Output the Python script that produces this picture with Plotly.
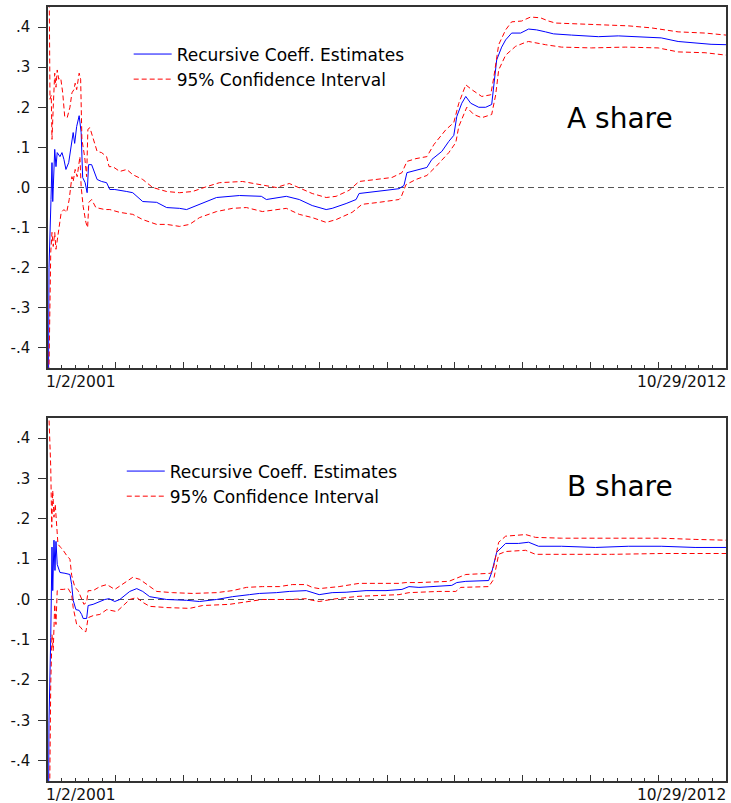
import plotly.graph_objects as go

# ---------------- data (observation index, value) ----------------
A_COEF_OBS = [0, 4, 12, 16, 19, 27, 32, 37, 48, 56, 64, 72, 83, 93, 101, 107, 115, 125, 133, 139, 149, 157, 163,
              175, 188, 197, 215, 235, 248, 268, 316, 340, 380, 436, 476, 528, 556, 608, 636, 676, 768, 856, 876,
              956, 1008, 1060, 1116, 1140, 1196, 1236, 1248, 1300, 1356, 1408, 1428, 1440, 1488, 1520, 1540, 1580,
              1608, 1628, 1640, 1660, 1676, 1696, 1728, 1756, 1780, 1788, 1800, 1820, 1836, 1860, 1896, 1928, 1960,
              1996, 2028, 2100, 2180, 2208, 2288, 2396, 2460, 2528, 2596, 2660, 2720]
A_COEF = [-0.80, -0.20, -0.03, 0.062, -0.035, 0.095, 0.052, 0.087, 0.077, 0.087, 0.07, 0.045, 0.062, 0.10, 0.137,
          0.11, 0.152, 0.179, 0.137, 0.025, 0.012, -0.013, 0.057, 0.057, 0.037, 0.02, 0.015, 0.012, -0.005, -0.005,
          -0.01, -0.013, -0.035, -0.037, -0.05, -0.052, -0.055, -0.042, -0.035, -0.025, -0.02, -0.022, -0.03,
          -0.022, -0.03, -0.045, -0.055, -0.052, -0.04, -0.03, -0.015, -0.012, -0.007, -0.003, 0.005, 0.037, 0.045,
          0.05, 0.07, 0.09, 0.115, 0.13, 0.177, 0.21, 0.227, 0.21, 0.2, 0.2, 0.207, 0.25, 0.318, 0.35, 0.368, 0.385,
          0.385, 0.395, 0.393, 0.388, 0.383, 0.38, 0.378, 0.376, 0.378, 0.375, 0.373, 0.364, 0.36, 0.357, 0.356]

A_UP_OBS = [0, 4, 8, 13, 16, 21, 27, 32, 37, 43, 51, 59, 67, 77, 88, 96, 104, 109, 115, 125, 131, 136, 147, 155,
            160, 168, 181, 197, 215, 235, 245, 260, 288, 316, 340, 380, 420, 476, 528, 580, 636, 688, 780, 848, 916,
            968, 1008, 1060, 1116, 1156, 1208, 1248, 1316, 1380, 1420, 1440, 1476, 1520, 1548, 1596, 1628, 1648,
            1676, 1700, 1740, 1776, 1788, 1808, 1836, 1860, 1900, 1936, 1976, 2008, 2036, 2128, 2236, 2328, 2420,
            2528, 2636, 2720]
A_UP = [0.90, 0.45, 0.22, 0.23, 0.12, 0.20, 0.285, 0.25, 0.293, 0.27, 0.273, 0.236, 0.177, 0.174, 0.20, 0.236,
        0.244, 0.26, 0.244, 0.285, 0.27, 0.12, 0.077, 0.027, 0.145, 0.149, 0.12, 0.09, 0.087, 0.077, 0.052, 0.052,
        0.04, 0.045, 0.032, 0.02, 0.0, -0.01, -0.013, -0.01, 0.002, 0.012, 0.015, 0.007, 0.0, 0.01, 0.0, -0.015,
        -0.025, -0.022, -0.007, 0.015, 0.02, 0.025, 0.037, 0.065, 0.072, 0.077, 0.107, 0.144, 0.162, 0.21, 0.256,
        0.244, 0.227, 0.231, 0.273, 0.356, 0.393, 0.413, 0.415, 0.425, 0.423, 0.415, 0.41, 0.408, 0.405, 0.403,
        0.398, 0.388, 0.385, 0.38]

A_LO_OBS = [0, 4, 11, 16, 21, 27, 32, 37, 45, 53, 64, 75, 85, 96, 101, 109, 117, 128, 133, 141, 152, 159, 164, 175,
            192, 228, 248, 288, 340, 380, 436, 476, 528, 568, 608, 676, 740, 796, 860, 956, 1008, 1060, 1116, 1156,
            1220, 1260, 1328, 1408, 1416, 1436, 1476, 1520, 1556, 1608, 1636, 1648, 1680, 1708, 1740, 1780, 1796,
            1808, 1836, 1876, 1916, 1928, 1996, 2060, 2180, 2316, 2448, 2528, 2636, 2720]
A_LO = [-0.90, -0.45, -0.162, -0.112, -0.147, -0.112, -0.154, -0.13, -0.097, -0.062, -0.055, -0.062, -0.03, 0.027,
        0.015, 0.045, 0.027, 0.077, 0.002, -0.047, -0.087, -0.10, -0.037, -0.03, -0.05, -0.055, -0.055, -0.062,
        -0.067, -0.08, -0.092, -0.092, -0.097, -0.092, -0.075, -0.06, -0.052, -0.05, -0.06, -0.052, -0.067, -0.075,
        -0.087, -0.08, -0.062, -0.042, -0.037, -0.03, -0.025, 0.007, 0.02, 0.03, 0.052, 0.087, 0.112, 0.152, 0.20,
        0.182, 0.174, 0.182, 0.231, 0.293, 0.33, 0.352, 0.362, 0.364, 0.356, 0.35, 0.348, 0.35, 0.348, 0.338,
        0.336, 0.33]

B_COEF_OBS = [0, 4, 11, 13, 16, 19, 24, 28, 32, 37, 48, 68, 88, 95, 101, 112, 125, 135, 141, 155, 161, 181, 201,
              228, 245, 268, 288, 328, 356, 380, 408, 476, 556, 608, 676, 740, 808, 848, 916, 968, 1036, 1060, 1088,
              1140, 1196, 1276, 1356, 1420, 1448, 1488, 1568, 1620, 1640, 1676, 1768, 1780, 1800, 1836, 1888, 1928,
              1968, 2060, 2196, 2328, 2460, 2596, 2720]
B_COEF = [-0.80, -0.30, -0.094, -0.012, 0.13, 0.022, 0.147, 0.072, 0.144, 0.087, 0.067, 0.065, 0.062, 0.037,
          -0.002, -0.025, -0.027, -0.037, -0.047, -0.047, -0.015, -0.012, -0.007, 0.0, 0.002, -0.005, 0.0, 0.02,
          0.027, 0.02, 0.007, 0.0, -0.002, -0.005, 0.0, 0.007, 0.012, 0.015, 0.017, 0.02, 0.022, 0.017, 0.012,
          0.017, 0.018, 0.022, 0.022, 0.025, 0.032, 0.03, 0.032, 0.035, 0.042, 0.045, 0.047, 0.067, 0.117, 0.139,
          0.139, 0.142, 0.132, 0.132, 0.129, 0.132, 0.132, 0.129, 0.129]

B_UP_OBS = [0, 4, 11, 15, 19, 24, 29, 35, 40, 51, 61, 75, 88, 95, 108, 121, 135, 144, 155, 161, 181, 208, 236, 268,
            316, 340, 368, 396, 436, 500, 580, 676, 740, 796, 860, 928, 980, 1036, 1060, 1088, 1168, 1248, 1408,
            1436, 1488, 1608, 1636, 1676, 1776, 1788, 1808, 1836, 1916, 1956, 2060, 2260, 2460, 2596, 2720]
B_UP = [0.90, 0.45, 0.328, 0.179, 0.27, 0.204, 0.236, 0.186, 0.137, 0.129, 0.122, 0.109, 0.10, 0.06, 0.03, 0.022,
        0.0, -0.012, -0.007, 0.022, 0.022, 0.032, 0.037, 0.025, 0.045, 0.055, 0.05, 0.037, 0.02, 0.017, 0.015,
        0.017, 0.022, 0.03, 0.032, 0.032, 0.037, 0.037, 0.03, 0.027, 0.032, 0.04, 0.04, 0.042, 0.042, 0.045, 0.052,
        0.062, 0.065, 0.082, 0.142, 0.157, 0.161, 0.154, 0.152, 0.152, 0.152, 0.149, 0.147]

B_LO_OBS = [0, 4, 8, 11, 16, 21, 27, 32, 37, 45, 61, 81, 95, 101, 115, 128, 141, 152, 161, 181, 208, 236, 276, 328,
            356, 380, 408, 476, 568, 620, 728, 796, 860, 968, 1036, 1060, 1088, 1156, 1248, 1408, 1448, 1568, 1636,
            1656, 1768, 1788, 1808, 1836, 1916, 1956, 2060, 2260, 2460, 2596, 2720]
B_LO = [-0.90, -0.60, -0.375, -0.211, -0.087, -0.127, -0.012, -0.062, 0.022, 0.025, 0.025, 0.027, 0.012, -0.02,
        -0.062, -0.067, -0.077, -0.08, -0.045, -0.04, -0.037, -0.025, -0.03, 0.0, 0.005, -0.007, -0.017, -0.02,
        -0.022, -0.015, -0.012, -0.005, 0.0, 0.0, 0.002, -0.002, -0.005, 0.002, 0.008, 0.012, 0.017, 0.02, 0.02,
        0.03, 0.032, 0.05, 0.112, 0.119, 0.122, 0.112, 0.112, 0.112, 0.114, 0.114, 0.114]

Y_TICKS = [0.4, 0.3, 0.2, 0.1, 0.0, -0.1, -0.2, -0.3, -0.4]
Y_TICK_TEXT = [".4", ".3", ".2", ".1", ".0", "-.1", "-.2", "-.3", "-.4"]
X_FIRST_LABEL = "1/2/2001"
X_LAST_LABEL = "10/29/2012"
N_OBS = 2720
PANEL_TITLES = ["A share", "B share"]
LEG_COEF = "Recursive Coeff. Estimates"
LEG_CI = "95% Confidence Interval"

# ---------------- figure ----------------
FONT = "DejaVu Sans"
BLUE = "#0000FF"
RED = "#FF0000"
FRAME = "#333333"
DASH = "5px,3px"

fig = go.Figure()

panels = [
    ("x", "y", "legend", A_COEF_OBS, A_COEF, A_UP_OBS, A_UP, A_LO_OBS, A_LO),
    ("x2", "y2", "legend2", B_COEF_OBS, B_COEF, B_UP_OBS, B_UP, B_LO_OBS, B_LO),
]
for xa, ya, leg, cx, cy, ux, uy, lx, ly in panels:
    fig.add_trace(go.Scatter(x=cx, y=cy, mode="lines", name=LEG_COEF, xaxis=xa, yaxis=ya, legend=leg,
                             line=dict(color=BLUE, width=1)))
    fig.add_trace(go.Scatter(x=ux, y=uy, mode="lines", name=LEG_CI, xaxis=xa, yaxis=ya, legend=leg,
                             line=dict(color=RED, width=1, dash=DASH)))
    fig.add_trace(go.Scatter(x=lx, y=ly, mode="lines", name=LEG_CI, xaxis=xa, yaxis=ya, legend=leg,
                             showlegend=False, line=dict(color=RED, width=1, dash=DASH)))

major = [i * N_OBS / 10 for i in range(11)]
xaxis_common = dict(range=[0, N_OBS], showgrid=False, zeroline=False, showline=True, mirror=True,
                    linecolor=FRAME, linewidth=1.5, ticks="inside", ticklen=6, tickcolor=FRAME, tickwidth=1,
                    tickvals=major, showticklabels=False,
                    minor=dict(ticks="inside", ticklen=3, tickcolor=FRAME, tickwidth=1, tick0=0,
                               dtick=N_OBS / 50, showgrid=False))
yaxis_common = dict(range=[-0.45, 0.45], showgrid=False, zeroline=False, showline=True, mirror=True,
                    linecolor=FRAME, linewidth=1.5, ticks="outside", ticklen=8, tickcolor=FRAME, tickwidth=1,
                    tickvals=Y_TICKS, ticktext=Y_TICK_TEXT, ticklabelstandoff=5,
                    tickfont=dict(family=FONT, size=15, color="#111"))


def legend_style(x, y):
    return dict(x=x, y=y, xanchor="left", yanchor="top", bgcolor="rgba(0,0,0,0)", borderwidth=0,
                font=dict(family=FONT, size=17, color="black"), itemwidth=38, tracegroupgap=0)


fig.update_layout(
    width=731, height=803,
    margin=dict(l=48, r=3, t=7, b=22),
    paper_bgcolor="white", plot_bgcolor="white",
    font=dict(family=FONT, color="black"),
    xaxis=dict(domain=[0, 1], anchor="y", **xaxis_common),
    yaxis=dict(domain=[0.5336, 1], anchor="x", **yaxis_common),
    xaxis2=dict(domain=[0, 1], anchor="y2", **xaxis_common),
    yaxis2=dict(domain=[0, 0.469], anchor="x2", **yaxis_common),
    legend=legend_style(0.119, 0.9619),
    legend2=legend_style(0.1088, 0.4231),
    showlegend=True,
)

for xa, ya in [("x", "y"), ("x2", "y2")]:
    fig.add_shape(type="line", xref=f"{xa} domain", yref=ya, x0=0, x1=1, y0=0, y1=0,
                  line=dict(color="#555555", width=1.2, dash="6px,4px"), layer="below")
    fig.add_annotation(text=X_FIRST_LABEL, xref=f"{xa} domain", yref=f"{ya} domain", x=0, y=0,
                       xanchor="left", yanchor="top", xshift=-4, yshift=-3, showarrow=False,
                       font=dict(family=FONT, size=15.5, color="#111"))
    fig.add_annotation(text=X_LAST_LABEL, xref=f"{xa} domain", yref=f"{ya} domain", x=1, y=0,
                       xanchor="right", yanchor="top", xshift=2, yshift=-3, showarrow=False,
                       font=dict(family=FONT, size=15.5, color="#111"))

fig.add_annotation(text=PANEL_TITLES[0], xref="x domain", yref="y domain", x=0.843, y=0.69,
                   xanchor="center", yanchor="middle", showarrow=False,
                   font=dict(family=FONT, size=28, color="black"))
fig.add_annotation(text=PANEL_TITLES[1], xref="x2 domain", yref="y2 domain", x=0.843, y=0.81,
                   xanchor="center", yanchor="middle", showarrow=False,
                   font=dict(family=FONT, size=28, color="black"))

fig.write_html("out.html")
